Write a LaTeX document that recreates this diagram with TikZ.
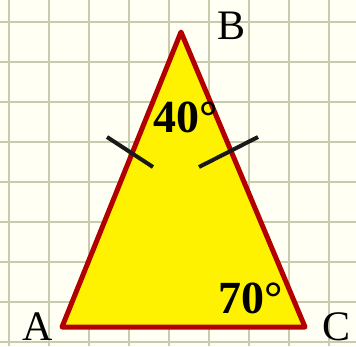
\documentclass[tikz,border=0pt]{standalone}
\usepackage{fontspec}
\setmainfont{Liberation Serif}
\usetikzlibrary{positioning}

\definecolor{paper}{HTML}{FFFFF4}
\definecolor{gridline}{HTML}{C9CBAE}
\definecolor{edge}{HTML}{B20000}

\begin{document}
\begin{tikzpicture}[
    x=1pt, y=-1pt,
    gridrule/.style={draw=gridline, line width=2pt},
    tri/.style={draw=edge, fill=yellow, line width=5pt, line join=round},
    tick/.style={draw=black!90, line width=4pt},
    vlbl/.style={font=\fontsize{42}{42}\selectfont, inner sep=0pt, anchor=base west},
    ang/.style={font=\fontsize{46}{46}\selectfont\bfseries, inner sep=0pt, anchor=base west},
]
\fill[paper] (0,0) rectangle (356,346);
\useasboundingbox (0,0) rectangle (356,346);

% squared paper
\foreach \x in {9,49,...,329}
    \draw[gridrule] (\x,0) -- (\x,346);
\foreach \y in {22,62,...,342}
    \draw[gridrule] (0,\y) -- (356,\y);

\coordinate (A) at (62,327);
\coordinate (B) at (181,32);
\coordinate (C) at (305,327);
\draw[tri] (A) -- (B) -- (C) -- cycle;

% equal-side marks
\coordinate (ab1) at (107,137);
\coordinate (ab2) at (153,167);
\coordinate (bc1) at (199,167);
\coordinate (bc2) at (258,137);
\draw[tick] (ab1) -- (ab2);
\draw[tick] (bc1) -- (bc2);

\node[vlbl] (la) at (22,340) {A};
\node[vlbl] (lb) at (217,39) {B};
\node[vlbl] (lc) at (322,340) {C};

\node[ang] (angb) at (153,132) {40°};
\node[ang] (angc) at (218,313) {70°};
\end{tikzpicture}
\end{document}
